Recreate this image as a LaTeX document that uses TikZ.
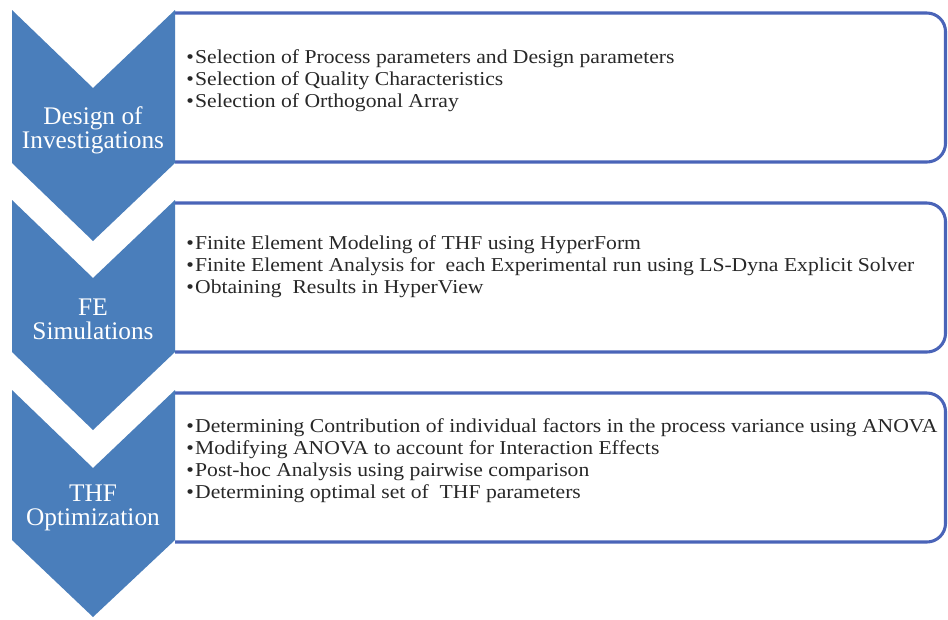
\documentclass[tikz,border=0pt]{standalone}
\usepackage{fontspec}
\setmainfont{Liberation Serif}
\newfontfamily\listfont[FakeStretch=1.1]{Liberation Serif}
\usepackage{xcolor}
\usepackage{tikz}
\usetikzlibrary{positioning}

\definecolor{chevblue}{RGB}{74,126,187}
\definecolor{boxblue}{RGB}{74,100,184}
\definecolor{listgray}{RGB}{40,40,40}

\begin{document}
\begin{tikzpicture}[
x=0.75pt, y=-0.75pt,
chev/.style={fill=chevblue},
box/.style={draw=boxblue, line width=2.3pt, fill=white, rounded corners=14pt},
head/.style={text=white, align=center, font=\fontsize{19pt}{18pt}\selectfont},
list/.style={anchor=west, align=left, text=listgray, inner sep=0pt, font=\listfont\fontsize{14.75pt}{16.5pt}\selectfont}
]
\useasboundingbox (0,0) rectangle (948,619);
% boxes, open on the chevron side
\draw[box] (175,13) -- (945.5,13) -- (945.5,162) -- (175,162);
\draw[box] (175,203) -- (945.5,203) -- (945.5,352) -- (175,352);
\draw[box] (175,393) -- (945.5,393) -- (945.5,542) -- (175,542);
% chevrons
\fill[chev] (12,10) -- (93,88) -- (175,10) -- (175,163) -- (93,241) -- (12,163) -- cycle;
\fill[chev] (12,200) -- (93,278) -- (175,200) -- (175,352) -- (93,430) -- (12,352) -- cycle;
\fill[chev] (12,390) -- (93,468) -- (175,390) -- (175,540) -- (93,617) -- (12,540) -- cycle;
% labels
\node[head] (design) at (93,130) {Design of\\Investigations};
\node[head] (fesim) at (93,319) {FE\\Simulations};
\node[head] (thfopt) at (93,508) {THF\\Optimization};
% lists
\node[list] (designlist) at (186,81) {•\kern1pt Selection of Process parameters and Design parameters\\
•\kern1pt Selection of Quality Characteristics\\
•\kern1pt Selection of Orthogonal Array};
\node[list] (fesimlist) at (186,267) {•\kern1pt Finite Element Modeling of THF using HyperForm\\
•\kern1pt Finite Element Analysis for\ \ each Experimental run using LS-Dyna Explicit Solver\\
•\kern1pt Obtaining\ \ Results in HyperView};
\node[list] (thfoptlist) at (186,461) {•\kern1pt Determining Contribution of individual factors in the process variance using ANOVA\\
•\kern1pt Modifying ANOVA to account for Interaction Effects\\
•\kern1pt Post-hoc Analysis using pairwise comparison\\
•\kern1pt Determining optimal set of\ \ THF parameters};
\end{tikzpicture}
\end{document}
